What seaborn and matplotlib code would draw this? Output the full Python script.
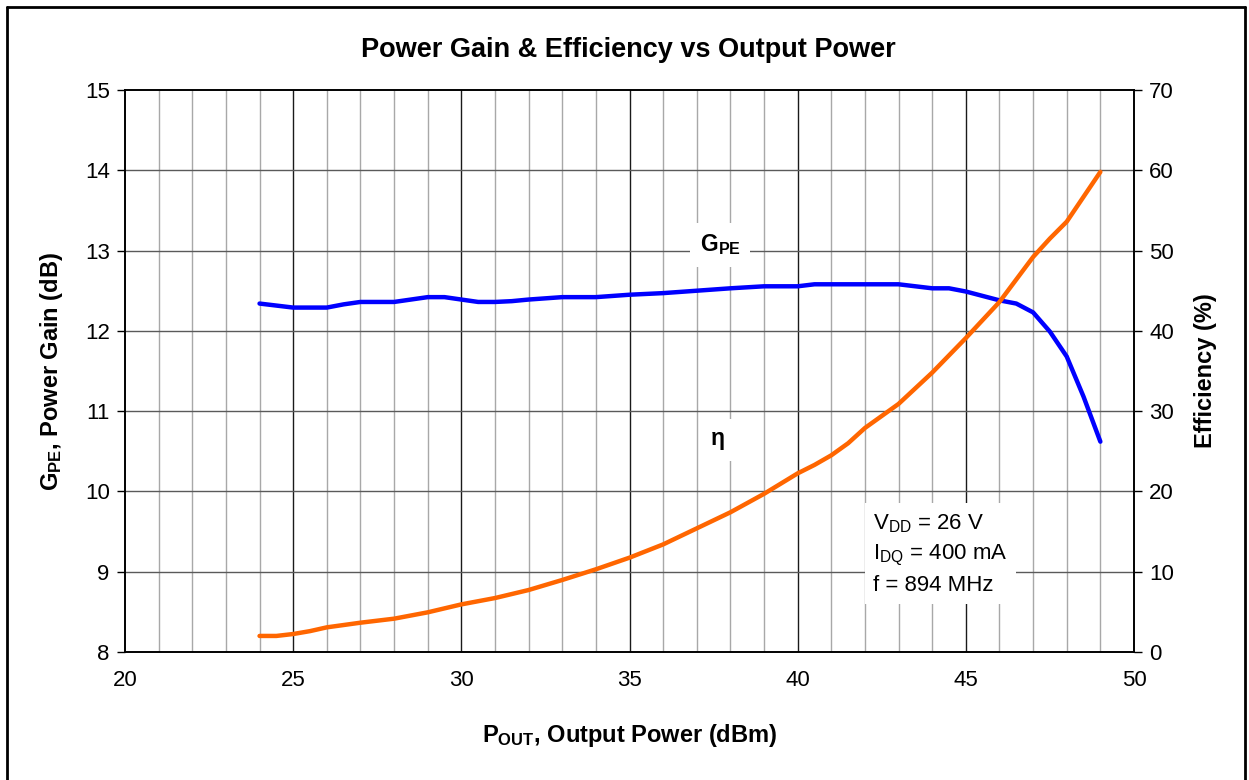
import numpy as np
import pandas as pd
import matplotlib
matplotlib.use("Agg")
import matplotlib.pyplot as plt
import seaborn as sns
from matplotlib.lines import Line2D
from matplotlib.ticker import MultipleLocator

# ---- data ----
gain_pout = [24, 25, 26, 26.5, 27, 28, 29, 29.5, 30, 30.5, 31, 31.5, 32, 33, 34, 35, 36, 37, 38, 39,
             40, 40.5, 41, 42, 43, 44, 44.5, 45, 46, 46.5, 47, 47.5, 48, 48.5, 49]
gain_db = [12.34, 12.29, 12.29, 12.33, 12.36, 12.36, 12.42, 12.42, 12.39, 12.36, 12.36, 12.37, 12.39,
           12.42, 12.42, 12.45, 12.47, 12.50, 12.53, 12.555, 12.555, 12.58, 12.58, 12.58, 12.58,
           12.53, 12.53, 12.49, 12.38, 12.34, 12.23, 11.99, 11.68, 11.18, 10.62]
eff_pout = [24, 24.5, 25, 25.5, 26, 27, 28, 29, 30, 31, 32, 33, 34, 35, 36, 37, 38, 39, 40, 40.5, 41,
            41.5, 42, 43, 44, 45, 46, 47, 47.5, 48, 48.5, 49]
eff_pct = [2.0, 2.0, 2.24, 2.6, 3.07, 3.65, 4.15, 4.94, 5.93, 6.72, 7.72, 8.97, 10.3, 11.75, 13.4, 15.4,
           17.4, 19.7, 22.25, 23.3, 24.5, 26.0, 27.9, 30.9, 34.8, 39.1, 43.6, 49.2, 51.5, 53.6, 56.7, 59.8]
x_ticks = [20, 25, 30, 35, 40, 45, 50]
gain_ticks = [8, 9, 10, 11, 12, 13, 14, 15]
eff_ticks = [0, 10, 20, 30, 40, 50, 60, 70]

gain_df = pd.DataFrame({"pout": gain_pout, "gain": gain_db})
eff_df = pd.DataFrame({"pout": eff_pout, "eff": eff_pct})

sns.set_style("white")
plt.rcParams["font.family"] = ["Liberation Sans", "DejaVu Sans"]
plt.rcParams["mathtext.fontset"] = "custom"
plt.rcParams["mathtext.rm"] = "Liberation Sans"
plt.rcParams["mathtext.bf"] = "Liberation Sans:bold"
plt.rcParams["mathtext.it"] = "Liberation Sans:italic"
plt.rcParams["text.color"] = "black"
plt.rcParams["axes.labelcolor"] = "black"
plt.rcParams["xtick.color"] = "black"
plt.rcParams["ytick.color"] = "black"

fig = plt.figure(figsize=(12.49, 7.8), dpi=100)
ax = fig.add_axes([125 / 1249, 1 - 652 / 780, (1134 - 125) / 1249, (652 - 90) / 780])
ax2 = ax.twinx()

# grid
ax.set_xlim(20, 50)
ax.set_ylim(8, 15)
ax2.set_ylim(0, 70)
ax.set_xticks(x_ticks)
ax.xaxis.set_minor_locator(MultipleLocator(1))
ax.set_yticks(gain_ticks)
ax2.set_yticks(eff_ticks)
for xv in range(21, 50):
    if xv % 5 == 0:
        ax.axvline(xv, color="#1a1a1a", lw=1.0, zorder=0)
    else:
        ax.axvline(xv, color="#a8a8a8", lw=1.0, zorder=0)
for yv in gain_ticks[1:-1]:
    ax.axhline(yv, color="#5a5a5a", lw=1.0, zorder=0)

sns.lineplot(data=gain_df, x="pout", y="gain", ax=ax, color="#0000FF", lw=3.2, zorder=5, legend=False)
sns.lineplot(data=eff_df, x="pout", y="eff", ax=ax2, color="#FF6600", lw=3.2, zorder=5, legend=False)

# spines
for a in (ax, ax2):
    for s in a.spines.values():
        s.set_color("black")
        s.set_linewidth(1.2)

ax.tick_params(axis="x", which="major", direction="inout", length=10, width=1.0, labelsize=16, pad=8)
ax.tick_params(axis="x", which="minor", direction="in", length=5, width=1.0, color="#555555")
ax.tick_params(axis="y", which="major", direction="out", length=6, width=1.0, labelsize=16, pad=5)
ax2.tick_params(axis="y", which="major", direction="out", length=6, width=1.0, labelsize=16, pad=5)

ax.set_xlabel(r"P$_{\mathbf{OUT}}$, Output Power (dBm)", fontsize=17, fontweight="bold", labelpad=22)
ax.set_ylabel(r"G$_{\mathbf{PE}}$, Power Gain (dB)", fontsize=17, fontweight="bold", labelpad=14)
ax2.set_ylabel("Efficiency (%)", fontsize=17, fontweight="bold", labelpad=14)

fig.text(628 / 1249, 1 - 50 / 780, "Power Gain & Efficiency vs Output Power", ha="center", va="center",
         fontsize=19.5, fontweight="bold")

# in-plot labels (white backgrounds hide grid)
ax.text(37.7, 13.07, r"G$_{\mathbf{PE}}$", fontsize=16.5, fontweight="bold", ha="center", va="center",
        zorder=4, bbox=dict(facecolor="white", edgecolor="none", pad=7))
ax.text(37.6, 10.64, r"$\mathbf{\eta}$", fontsize=16.5, ha="center", va="center",
        zorder=4, bbox=dict(facecolor="white", edgecolor="none", pad=7))
ax.text(42.25, 9.22, "V$_{\\mathregular{DD}}$ = 26 V\nI$_{\\mathregular{DQ}}$ = 400 mA\nf = 894 MHz",
        fontsize=16, ha="left", va="center", linespacing=1.45, zorder=4,
        bbox=dict(facecolor="white", edgecolor="none", pad=6))

# outer frame
fig.add_artist(Line2D([7 / 1249, 7 / 1249], [0, 1 - 7 / 780], color="black", lw=2, transform=fig.transFigure))
fig.add_artist(Line2D([1245 / 1249, 1245 / 1249], [0, 1 - 7 / 780], color="black", lw=2, transform=fig.transFigure))
fig.add_artist(Line2D([7 / 1249, 1245 / 1249], [1 - 7 / 780, 1 - 7 / 780], color="black", lw=2, transform=fig.transFigure))

fig.savefig("out.png", dpi=100)
